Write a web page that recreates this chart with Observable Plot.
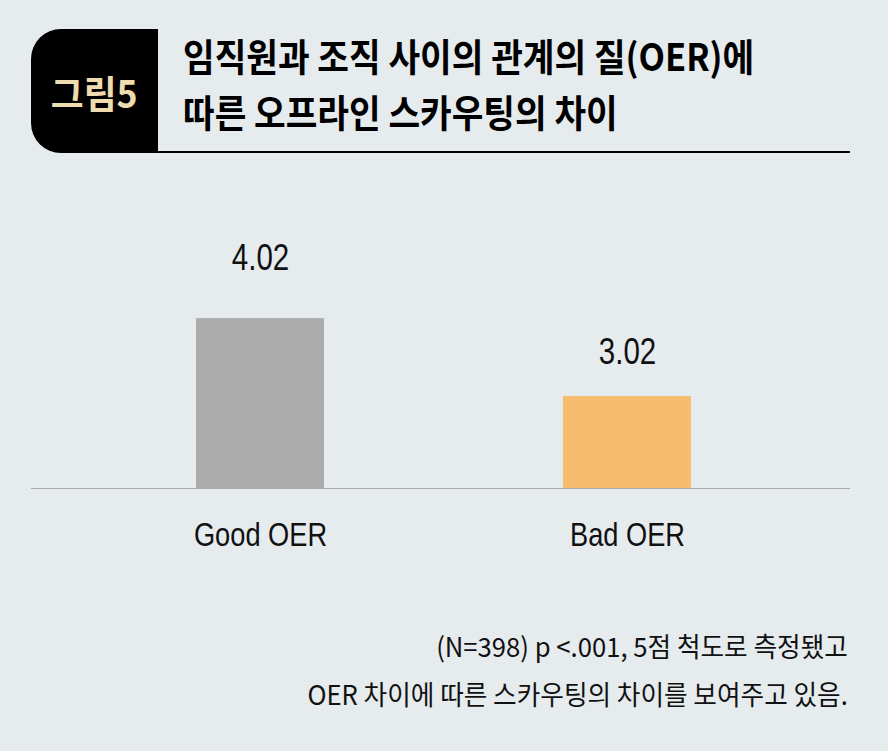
<!DOCTYPE html>
<html><head><meta charset="utf-8">
<script src="https://cdn.jsdelivr.net/npm/d3@7"></script>
<script src="https://cdn.jsdelivr.net/npm/@observablehq/plot@0.6"></script>
<style>
html,body{margin:0;padding:0;}
body{background:#e6ebee;width:888px;height:751px;overflow:hidden;position:relative;font-family:"Liberation Sans","Noto Sans CJK KR",sans-serif;color:#111;}
#badge{position:absolute;left:31px;top:29px;width:127px;height:124px;background:#000;border-radius:30px 0 0 30px;color:#efdcae;font-weight:700;font-size:38px;font-family:"Noto Sans CJK KR",sans-serif;display:flex;align-items:center;justify-content:center;}
#badge span{display:inline-block;transform:scaleX(0.94);}
#title{position:absolute;left:183px;top:27px;font-weight:700;font-size:38px;font-family:"Noto Sans CJK KR",sans-serif;line-height:56px;color:#000;white-space:nowrap;transform:scaleX(0.905);transform-origin:left top;}
#rule{position:absolute;left:158px;top:151px;width:692px;height:2px;background:#000;}
#chart{position:absolute;left:0;top:170px;}
#caption{position:absolute;right:40px;top:622px;text-align:right;font-size:27px;line-height:48px;white-space:nowrap;font-family:"Noto Sans CJK KR",sans-serif;transform:scaleX(0.95);transform-origin:right top;}
</style>
</head><body>
<div id="badge"><span>그림5</span></div>
<div id="title">임직원과 조직 사이의 관계의 질(OER)에<br>따른 오프라인 스카우팅의 차이</div>
<div id="rule"></div>
<div id="chart"></div>
<div id="caption">(N=398) p &lt;.001, 5점 척도로 측정됐고<br>OER 차이에 따른 스카우팅의 차이를 보여주고 있음.</div>
<script>
const categories = ["Good OER", "Bad OER"];
const values = [4.02, 3.02];
const colors = ["#aaabaa", "#f6bd6f"];
const yBase = 1.84;

const data = categories.map((c, i) => ({category: c, value: values[i], color: colors[i]}));

const chart = Plot.plot({
  width: 888,
  height: 400,
  marginLeft: 31,
  marginRight: 38,
  marginTop: 0,
  marginBottom: 82,
  style: {background: "transparent", fontFamily: "'Liberation Sans',Arial,sans-serif", color: "#111"},
  x: {domain: categories, paddingInner: 0.651, paddingOuter: 0.441, align: 0.51, label: null},
  y: {domain: [yBase, 5.92], clamp: true, axis: null},
  marks: [
    Plot.barY(data, {x: "category", y: "value", fill: "color"}),
    Plot.ruleY([yBase], {stroke: "#a9abad", strokeWidth: 1}),
    Plot.text(data.filter(d => d.category === "Good OER"), {x: "category", y: "value", text: d => d.value.toFixed(2), dy: -60, fontSize: 36, fill: "#111"}),
    Plot.text(data.filter(d => d.category === "Bad OER"), {x: "category", y: "value", text: d => d.value.toFixed(2), dy: -44, fontSize: 36, fill: "#111"}),
    Plot.axisX({tickSize: 0, tickPadding: 33, fontSize: 34, label: null})
  ]
});
document.getElementById("chart").appendChild(chart);

// condensed look: narrow the glyphs of the chart texts
function condense(sel, k) {
  chart.querySelectorAll(sel).forEach(t => {
    const L = t.getComputedTextLength();
    t.setAttribute("textLength", (L * k).toFixed(1));
    t.setAttribute("lengthAdjust", "spacingAndGlyphs");
  });
}
condense('g[aria-label="x-axis tick label"] text', 0.8);
condense('g[aria-label="text"] text', 0.82);
</script>
</body></html>
